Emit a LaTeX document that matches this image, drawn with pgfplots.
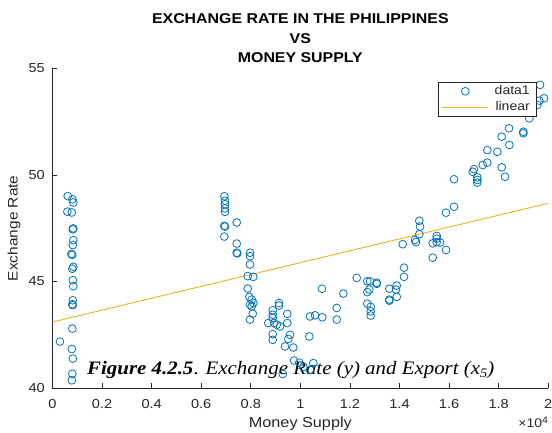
\documentclass[border=0pt]{standalone}
\usepackage{fontspec}
\setmainfont{Liberation Sans}[FakeStretch=1.12]
\newfontfamily\capfont{Liberation Serif}[FakeStretch=1.1]
\usepackage{pgfplots}
\pgfplotsset{compat=1.18}
\definecolor{mblue}{rgb}{0,0.447,0.741}
\definecolor{morange}{rgb}{0.929,0.694,0.125}
\definecolor{axgray}{gray}{0.15}
\pgfplotsset{
  scatlegend/.style={legend image code/.code={\draw[mark repeat=2,mark phase=2,##1] plot coordinates {(0pt,0pt) (23pt,0pt) (46pt,0pt)};}},
  linlegend/.style={legend image code/.code={\draw[##1] (0pt,0pt) -- (46pt,0pt);}},
}
\begin{document}
\begin{tikzpicture}
\path[use as bounding box] (-52.5pt,-44pt) rectangle (499.5pt,388pt);
\begin{axis}[
  scale only axis, width=495.7pt, height=319.5pt,
  at={(0pt,0pt)}, anchor=south west, clip=false,
  xmin=0, xmax=20000, ymin=40, ymax=55,
  axis x line*=bottom, axis y line*=left,
  axis line style={-, axgray, line width=0.6pt},
  tick style={axgray, line width=0.6pt},
  tick align=inside, major tick length=5pt,
  xtick={0,2000,4000,6000,8000,10000,12000,14000,16000,18000,20000},
  xticklabels={0,0.2,0.4,0.6,0.8,1,1.2,1.4,1.6,1.8,2},
  ytick={40,45,50,55}, yticklabels={40,45,50,55},
  xticklabel style={font=\fontsize{13}{14}\selectfont, text=axgray, inner sep=0pt, anchor=base, yshift=-20pt},
  yticklabel style={font=\fontsize{13}{14}\selectfont, text=axgray, inner sep=0pt, anchor=east, xshift=-7.5pt},
  title={EXCHANGE RATE IN THE PHILIPPINES\\VS\\MONEY SUPPLY},
  title style={font=\bfseries\fontsize{14.2}{19.5}\selectfont, align=center, at={(0.5,1)}, anchor=south, inner sep=0pt, yshift=-0.5pt},
  legend style={at={(rel axis cs:0.9754,0.9577)}, anchor=north east, draw=axgray, line width=0.5pt,
    font=\fontsize{12.5}{13}\selectfont, text=axgray, inner xsep=4pt, inner ysep=1pt,
    nodes={text height=9.5pt, text depth=3pt, inner ysep=1.8pt}, row sep=0pt, column sep=4pt},
  legend cell align=right,
]
\addplot[only marks, mark=o, mark size=3.9pt, mblue, mark options={line width=0.8pt}, scatlegend]
coordinates {
(613,49.01) (800,48.86) (840,48.71) (600,48.28) (780,48.24) (840,47.49) (820,47.45) (840,46.94)
(820,46.71) (760,46.29) (800,46.25) (840,45.69) (800,45.60) (820,45.06) (840,44.78) (820,44.12)
(800,43.93) (820,43.89) (800,42.79) (300,42.18) (780,41.83) (820,41.38) (800,40.67) (780,40.36)
(6932,49.00) (6960,48.79) (6960,48.63) (6960,48.43) (6960,48.27) (6932,47.61) (6960,47.58) (7432,47.77)
(6932,47.11) (7432,46.78) (7432,46.35) (7457,46.32) (7969,46.35) (7969,46.19) (7969,45.80) (7876,45.25)
(8102,45.22) (7876,44.67) (7941,44.28) (8038,44.15) (8102,43.99) (7969,43.92) (8038,43.83) (8078,43.49)
(7969,43.21)
(9139,43.99) (9139,43.87) (8885,43.65) (8885,43.44) (8885,43.29) (8937,43.05) (8708,43.05) (9047,42.97)
(9180,42.89) (9474,43.48) (9474,43.05) (8885,42.53) (8885,42.26) (9583,42.50) (9515,42.30) (9381,41.95)
(9716,41.90) (9745,41.29) (9958,41.19) (10120,40.99) (10523,41.17) (10390,40.85) (9289,40.66) (10390,43.36)
(10592,43.41) (10886,43.32) (10362,42.42) (10874,44.66) (11734,44.43) (11468,43.76) (11468,43.21)
(14800,47.85) (14829,47.58) (14800,47.22) (14627,46.95) (14667,46.85) (14131,46.75) (15502,47.14) (15502,47.01)
(15502,46.85) (15341,46.79) (15636,46.83) (15878,46.48) (15341,46.12) (14183,45.65) (14183,45.22) (12274,45.17)
(12702,45.01) (12811,45.01) (13081,44.94) (13081,44.89) (12783,44.62) (12702,44.50) (13590,44.66) (13889,44.81)
(13860,44.62) (13889,44.28) (13590,44.15) (13590,44.10) (12702,43.96) (12839,43.81) (12839,43.60) (12839,43.40)
(19671,54.23) (19832,53.60) (19643,53.49) (19562,53.29) (19239,52.66) (18997,52.03) (18997,51.96) (18420,52.19)
(18125,51.80) (18432,51.41) (17948,51.09) (17544,51.17) (17544,50.58) (17358,50.47) (17007,50.27) (16955,50.15)
(18125,50.36) (18259,49.92) (17140,49.89) (17140,49.77) (17140,49.64) (16201,49.80) (15878,48.23) (16201,48.51)
};
\addplot[morange, line width=0.9pt, linlegend]
coordinates {(0,43.10) (20000,48.67)};
\legend{data1, linear}
\node[rotate=90, font=\fontsize{13.8}{16}\selectfont, text=axgray, anchor=center]
  at ([xshift=-38.5pt]rel axis cs:0,0.5) {Exchange Rate};
\node[font=\fontsize{14.5}{16}\selectfont, text=axgray, anchor=base]
  at ([yshift=-39.3pt]rel axis cs:0.5,0) {Money Supply};
\node[font=\fontsize{12.5}{13}\selectfont, text=axgray, anchor=base east, inner sep=0pt]
  at ([yshift=-39.5pt]rel axis cs:1,0) {×10\raisebox{4.5pt}{\fontsize{9.5}{10}\selectfont 4}};
\node[font=\capfont\fontsize{19}{21}\selectfont, anchor=base west, inner sep=0pt]
  at ([xshift=34.5pt,yshift=14pt]rel axis cs:0,0)
  {\textbf{\textit{Figure 4.2.5}}. \textit{Exchange Rate (y) and Export (x\raisebox{-3pt}{\fontsize{13}{14}\selectfont 5})}};
\end{axis}
\end{tikzpicture}
\end{document}
